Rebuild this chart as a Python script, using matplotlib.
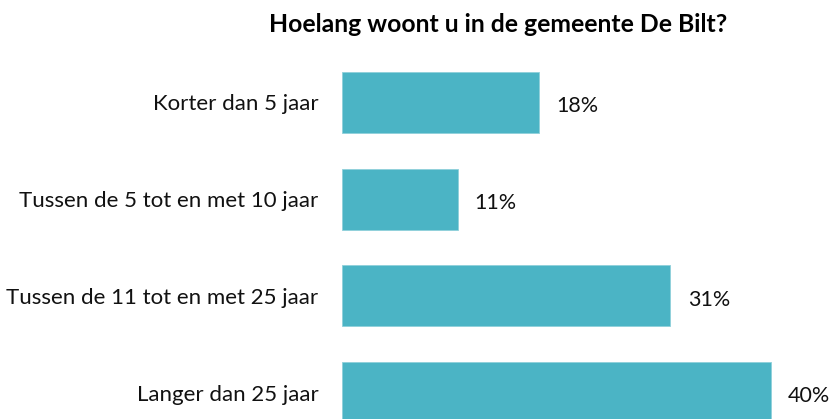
import matplotlib
matplotlib.use("Agg")
import matplotlib.pyplot as plt

categories = [
    "Korter dan 5 jaar",
    "Tussen de 5 tot en met 10 jaar",
    "Tussen de 11 tot en met 25 jaar",
    "Langer dan 25 jaar",
]
values = [18.4, 10.8, 30.7, 40.1]
value_labels = ["18%", "11%", "31%", "40%"]
title = "Hoelang woont u in de gemeente De Bilt?"

plt.rcParams["font.family"] = ["Lato", "DejaVu Sans"]

W, H = 830, 419
fig = plt.figure(figsize=(W / 100, H / 100), dpi=100)
ax = fig.add_axes([342 / W, 0, (W - 342) / W, 1])

bar_color = "#4BB4C5"
ypos = range(len(categories))
ax.barh(ypos, values, height=0.63, color=bar_color, edgecolor="#8FD0DA", linewidth=0.6)

for y, v, lab in zip(ypos, values, value_labels):
    ax.text(v + 1.6, y + 0.04, lab, va="center", ha="left", fontsize=15.5, color="#111111")

ax.set_xlim(0, (W - 342) / 10.7)
ax.set_ylim(3.274, -1.06)
ax.set_yticks(list(ypos))
ax.set_yticklabels(categories, fontsize=16, color="#111111")
ax.tick_params(axis="y", length=0, pad=17)
ax.set_xticks([])
for s in ax.spines.values():
    s.set_visible(False)

fig.text(498 / W, 1 - 24 / H, title, ha="center", va="center",
         fontsize=17.8, fontweight="bold", color="#000000")

fig.savefig("out.png", dpi=100)
